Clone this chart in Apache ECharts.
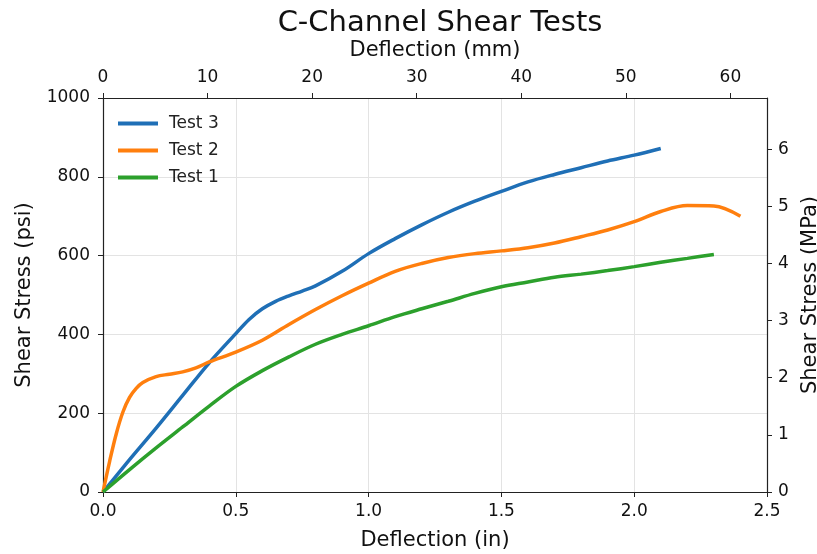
<!DOCTYPE html>
<html>
<head>
<meta charset="utf-8">
<script src="https://cdn.jsdelivr.net/npm/echarts@6/dist/echarts.min.js"></script>
<style>
  html, body { margin: 0; padding: 0; background: #fff; }
  #chart { width: 817px; height: 554px; }
</style>
</head>
<body>
<div id="chart"></div>
<script>
// deflection (in) and shear stress (psi)
const test3X = [0, 0.1, 0.2, 0.3, 0.4, 0.5, 0.55, 0.6, 0.65, 0.7, 0.75, 0.8, 0.9, 1.0, 1.1, 1.2, 1.3, 1.4, 1.5, 1.6, 1.7, 1.8, 1.9, 2.0, 2.1];
const test3Y = [0, 82, 162, 245, 328, 402, 438, 465, 484, 498, 510, 523, 560, 605, 643, 678, 710, 738, 763, 787, 806, 823, 840, 855, 872];

const test2X = [0, 0.025, 0.05, 0.075, 0.1, 0.125, 0.15, 0.2, 0.25, 0.3, 0.35, 0.4, 0.5, 0.6, 0.7, 0.8, 0.9, 1.0, 1.1, 1.2, 1.3, 1.4, 1.5, 1.6, 1.7, 1.8, 1.9, 2.0, 2.1, 2.2, 2.3, 2.4];
const test2Y = [0, 78, 148, 203, 240, 263, 278, 293, 299, 305, 315, 330, 355, 385, 425, 463, 498, 530, 560, 580, 595, 605, 612, 620, 632, 648, 665, 686, 712, 727, 726, 700];

const test1X = [0, 0.1, 0.2, 0.3, 0.4, 0.5, 0.6, 0.7, 0.8, 0.9, 1.0, 1.1, 1.2, 1.3, 1.4, 1.5, 1.6, 1.7, 1.8, 1.9, 2.0, 2.1, 2.2, 2.3];
const test1Y = [0, 57, 112, 165, 218, 268, 308, 343, 375, 400, 422, 445, 465, 484, 504, 521, 533, 545, 553, 562, 572, 583, 593, 603];

// secondary axis ticks
const mmTicks = [0, 10, 20, 30, 40, 50, 60];
const mpaTicks = [0, 1, 2, 3, 4, 5, 6];

const IN_MAX = 2.5;
const PSI_MAX = 1000;
const MM_PER_IN = 25.4;
const MPA_PER_PSI = 0.00689476;

const pairs = (xs, ys) => xs.map((x, i) => [x, ys[i]]);

const font = 'DejaVu Sans';
const axisColor = '#222';

const chart = echarts.init(document.getElementById('chart'));

chart.setOption({
  animation: false,
  textStyle: { fontFamily: font },
  title: {
    text: 'C-Channel Shear Tests',
    left: 435,
    textAlign: 'center',
    top: 4,
    textStyle: { fontFamily: font, fontSize: 29, fontWeight: 'normal', color: '#111' }
  },
  legend: {
    data: ['Test 3', 'Test 2', 'Test 1'],
    orient: 'vertical',
    left: 113,
    top: 110,
    icon: 'rect',
    itemWidth: 40,
    itemHeight: 4,
    itemGap: 10,
    textStyle: { fontFamily: font, fontSize: 17, color: '#222', padding: [0, 0, 0, 6] }
  },
  grid: { left: 103, right: 50, top: 98, bottom: 62, outerBoundsMode: 'none', containLabel: false },
  xAxis: [
    {
      type: 'value',
      position: 'bottom',
      min: 0,
      max: IN_MAX,
      interval: 0.5,
      name: 'Deflection (in)',
      nameLocation: 'middle',
      nameGap: 38,
      nameTextStyle: { fontFamily: font, fontSize: 21, color: '#111' },
      axisLine: { show: true, onZero: false, lineStyle: { color: axisColor, width: 1.2 } },
      axisTick: { show: true, inside: false, length: 5, lineStyle: { color: axisColor } },
      axisLabel: { fontFamily: font, fontSize: 17, color: '#111', margin: 11, formatter: v => v.toFixed(1) },
      splitLine: { show: true, lineStyle: { color: '#e3e3e3', width: 1 } }
    },
    {
      type: 'value',
      position: 'top',
      min: 0,
      max: IN_MAX * MM_PER_IN,
      name: 'Deflection (mm)',
      nameLocation: 'middle',
      nameGap: 37,
      nameTextStyle: { fontFamily: font, fontSize: 21, color: '#111' },
      axisLine: { show: true, onZero: false, lineStyle: { color: axisColor, width: 1.2 } },
      axisTick: { show: true, length: 5, customValues: mmTicks, lineStyle: { color: axisColor } },
      axisLabel: { fontFamily: font, fontSize: 17, color: '#111', margin: 12, customValues: mmTicks },
      splitLine: { show: false }
    }
  ],
  yAxis: [
    {
      type: 'value',
      position: 'left',
      min: 0,
      max: PSI_MAX,
      interval: 200,
      name: 'Shear Stress (psi)',
      nameLocation: 'middle',
      nameGap: 68,
      nameTextStyle: { fontFamily: font, fontSize: 21, color: '#111' },
      axisLine: { show: true, onZero: false, lineStyle: { color: axisColor, width: 1.2 } },
      axisTick: { show: true, length: 5, lineStyle: { color: axisColor } },
      axisLabel: { fontFamily: font, fontSize: 17, color: '#111', margin: 13, formatter: v => String(v) },
      splitLine: { show: true, lineStyle: { color: '#e3e3e3', width: 1 } }
    },
    {
      type: 'value',
      position: 'right',
      min: 0,
      max: PSI_MAX * MPA_PER_PSI,
      name: 'Shear Stress (MPa)',
      nameLocation: 'middle',
      nameGap: 28,
      nameTextStyle: { fontFamily: font, fontSize: 21, color: '#111' },
      axisLine: { show: true, onZero: false, lineStyle: { color: axisColor, width: 1.2 } },
      axisTick: { show: true, length: 5, customValues: mpaTicks, lineStyle: { color: axisColor } },
      axisLabel: { fontFamily: font, fontSize: 17, color: '#111', margin: 11, customValues: mpaTicks },
      splitLine: { show: false }
    }
  ],
  series: [
    {
      name: 'Test 3',
      type: 'line',
      xAxisIndex: 0,
      yAxisIndex: 0,
      data: pairs(test3X, test3Y),
      smooth: 0.35,
      showSymbol: false,
      lineStyle: { color: '#1f6fb6', width: 3.5 },
      itemStyle: { color: '#1f6fb6' }
    },
    {
      name: 'Test 2',
      type: 'line',
      xAxisIndex: 0,
      yAxisIndex: 0,
      data: pairs(test2X, test2Y),
      smooth: 0.35,
      showSymbol: false,
      lineStyle: { color: '#ff7f0e', width: 3.5 },
      itemStyle: { color: '#ff7f0e' }
    },
    {
      name: 'Test 1',
      type: 'line',
      xAxisIndex: 0,
      yAxisIndex: 0,
      data: pairs(test1X, test1Y),
      smooth: 0.35,
      showSymbol: false,
      lineStyle: { color: '#2ca02c', width: 3.5 },
      itemStyle: { color: '#2ca02c' }
    }
  ]
});

window.addEventListener('resize', () => chart.resize());
</script>
</body>
</html>
